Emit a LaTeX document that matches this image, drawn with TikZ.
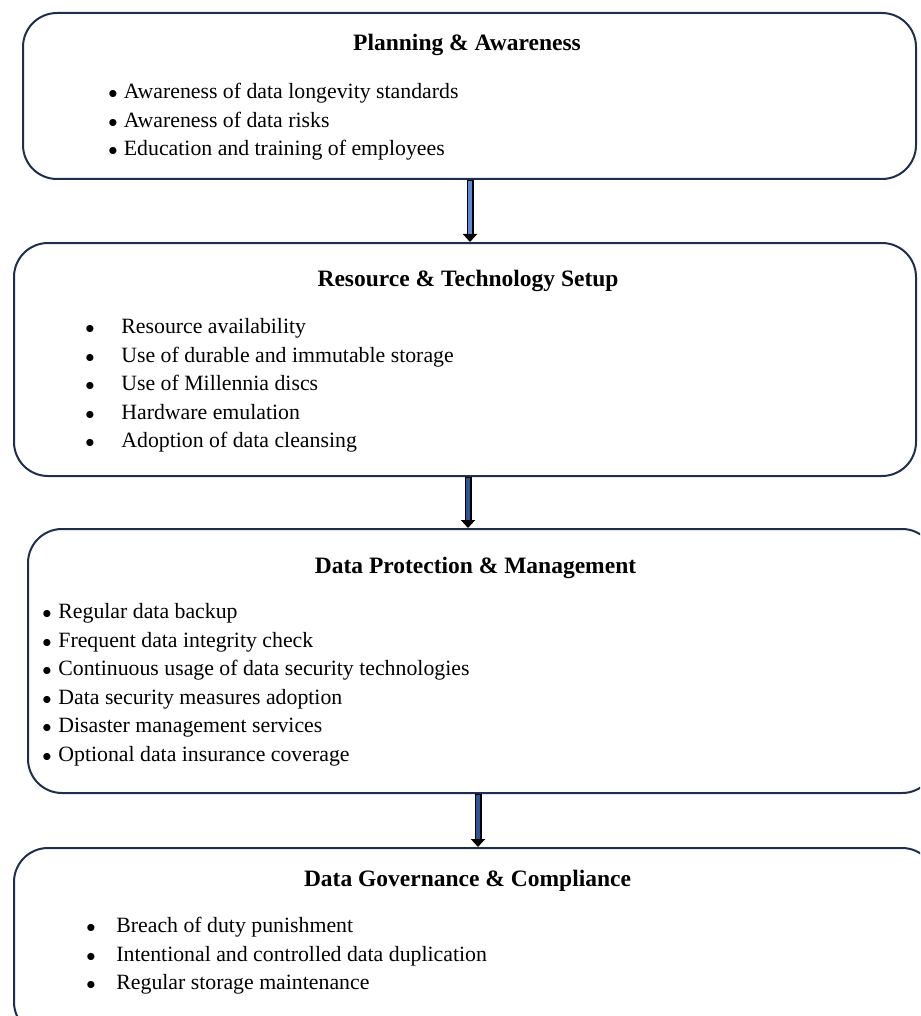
\documentclass[tikz,border=0pt]{standalone}
\usepackage{fontspec}
\setmainfont{Liberation Serif}
\usetikzlibrary{arrows.meta}

\definecolor{navy}{HTML}{1F2D4E}
\definecolor{lightflow}{HTML}{5B8BD6}
\definecolor{darkflow}{HTML}{2F5597}
\newcommand{\bulletrow}[2]{\makebox[#1][l]{\fontsize{9.5}{0}\selectfont$\bullet$}#2}

\begin{document}
\begin{tikzpicture}[
  x=0.5pt, y=-0.5pt,
  panel/.style={draw=navy, line width=1pt, rounded corners=17pt, anchor=north west, inner sep=0pt},
  heading/.style={inner sep=0pt, font=\bfseries\fontsize{11.75}{13}\selectfont},
  items/.style={anchor=north west, inner sep=0pt, align=left, font=\fontsize{10.9}{14.25}\selectfont},
  flowline/.style={line width=3.5pt, -{Triangle[width=7pt,length=4pt]}},
  flowfill/.style={line width=1.8pt, shorten >=4pt, shorten <=0.6pt}
  ]
  \useasboundingbox (0,0) rectangle (920,1016);
  \clip (0,0) rectangle (920,1016);

  % Boxes
  \node[panel, minimum width=446.5pt, minimum height=83pt] (plan) at (22,12) {};
  \node[panel, minimum width=451pt, minimum height=116.5pt] (res) at (13,242) {};
  \node[panel, minimum width=454pt, minimum height=132pt] (prot) at (27,528) {};
  \node[panel, minimum width=461pt, minimum height=94pt] (gov) at (13,847) {};

  % Box 1
  \node[heading] (planT) at (467,45) {Planning \& Awareness};
  \node[items] (planL) at (108,83) {%
    \bulletrow{7.75pt}{Awareness of data longevity standards}\\
    \bulletrow{7.75pt}{Awareness of data risks}\\
    \bulletrow{7.75pt}{Education and training of employees}};

  % Box 2
  \node[heading] (resT) at (468,281) {Resource \& Technology Setup};
  \node[items] (resL) at (85,318) {%
    \bulletrow{18pt}{Resource availability}\\
    \bulletrow{18pt}{Use of durable and immutable storage}\\
    \bulletrow{18pt}{Use of Millennia discs}\\
    \bulletrow{18pt}{Hardware emulation}\\
    \bulletrow{18pt}{Adoption of data cleansing}};

  % Box 3
  \node[heading] (protT) at (475.5,568) {Data Protection \& Management};
  \node[items] (protL) at (42,603) {%
    \bulletrow{8pt}{Regular data backup}\\
    \bulletrow{8pt}{Frequent data integrity check}\\
    \bulletrow{8pt}{Continuous usage of data security technologies}\\
    \bulletrow{8pt}{Data security measures adoption}\\
    \bulletrow{8pt}{Disaster management services}\\
    \bulletrow{8pt}{Optional data insurance coverage}};

  % Box 4
  \node[heading] (govT) at (467.5,881) {Data Governance \& Compliance};
  \node[items] (govL) at (86,917) {%
    \bulletrow{15pt}{Breach of duty punishment}\\
    \bulletrow{15pt}{Intentional and controlled data duplication}\\
    \bulletrow{15pt}{Regular storage maintenance}};

  % Arrows
  \coordinate (c1) at (470,0);
  \coordinate (c2) at (468,0);
  \coordinate (c3) at (478,0);
  \draw[flowline] (plan.south -| c1) -- (res.north -| c1);
  \draw[flowfill, lightflow] (plan.south -| c1) -- (res.north -| c1);
  \draw[flowline] (res.south -| c2) -- (prot.north -| c2);
  \draw[flowfill, darkflow] (res.south -| c2) -- (prot.north -| c2);
  \draw[flowline] (prot.south -| c3) -- (gov.north -| c3);
  \draw[flowfill, darkflow] (prot.south -| c3) -- (gov.north -| c3);
\end{tikzpicture}
\end{document}
